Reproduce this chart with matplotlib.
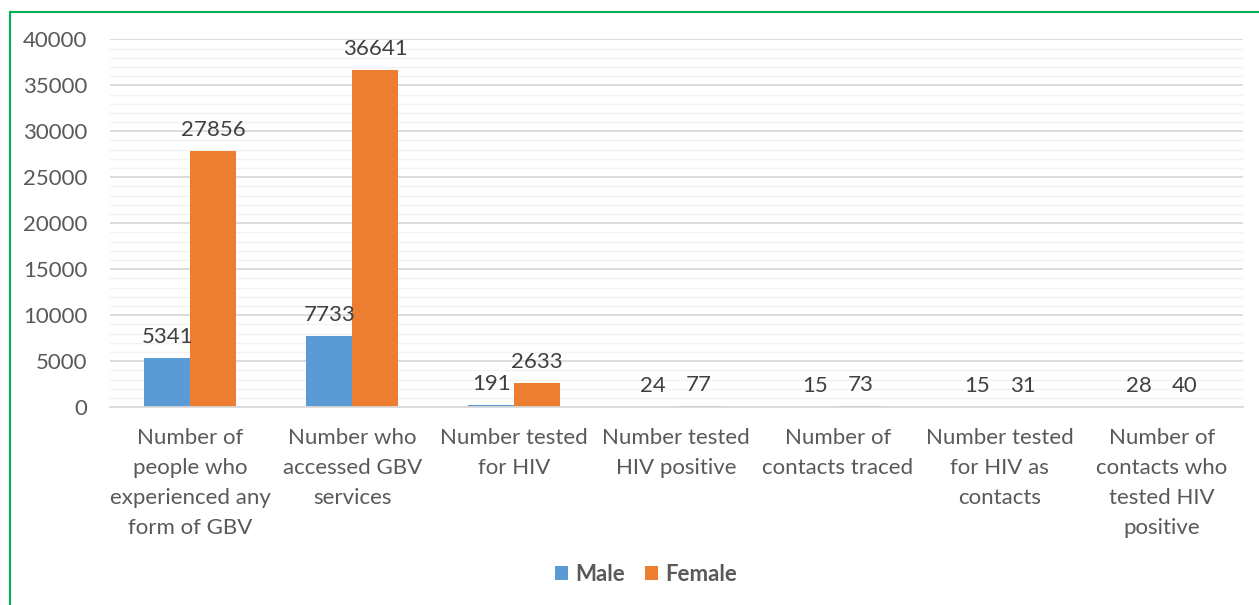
import numpy as np
import matplotlib.pyplot as plt
from matplotlib.lines import Line2D

# categories and values
categories = ["Number of\npeople who\nexperienced any\nform of GBV",
              "Number who\naccessed GBV\nservices",
              "Number tested\nfor HIV",
              "Number tested\nHIV positive",
              "Number of\ncontacts traced",
              "Number tested\nfor HIV as\ncontacts",
              "Number of\ncontacts who\ntested HIV\npositive"]
male = [5341, 7733, 191, 24, 15, 15, 28]
female = [27856, 36641, 2633, 77, 73, 31, 40]

blue = "#5B9BD5"
orange = "#ED7D31"
txt = "#595959"

plt.rcParams['font.family'] = ['Lato', 'DejaVu Sans']

fig = plt.figure(figsize=(12.59, 6.05), dpi=100)
ax = fig.add_axes([0.087, 0.327, 0.9, 0.608])

x = np.arange(len(categories))
w = 0.284
b1 = ax.bar(x - w / 2, male, w, color=blue, label="Male")
b2 = ax.bar(x + w / 2, female, w, color=orange, label="Female")

# data labels
for bars, vals in [(b1, male), (b2, female)]:
    for rect, v in zip(bars, vals):
        ax.annotate(str(v), (rect.get_x() + rect.get_width() / 2, v),
                    xytext=(0, 8), textcoords="offset points",
                    ha="center", va="bottom", fontsize=16, color="#404040")

ax.set_ylim(0, 40000)
ax.set_xlim(-0.5, len(categories) - 0.5)
ax.set_yticks(np.arange(0, 40001, 5000))
ax.set_yticks(np.arange(0, 40001, 1000), minor=True)
ax.grid(axis="y", which="major", color="#D9D9D9", linewidth=1.3)
ax.grid(axis="y", which="minor", color="#F2F2F2", linewidth=1.0)
ax.set_axisbelow(True)
for s in ["top", "right", "left"]:
    ax.spines[s].set_visible(False)
ax.spines["bottom"].set_color("#D9D9D9")
ax.spines["bottom"].set_linewidth(1.3)

ax.set_xticks(x)
ax.set_xticklabels(categories, fontsize=16, color=txt, linespacing=1.63)
ax.tick_params(axis="y", which="both", length=0, labelsize=16, labelcolor=txt, pad=16)
ax.tick_params(axis="x", length=0, pad=15)

leg = fig.legend(handles=[b1, b2], labels=["Male", "Female"], loc="center",
                 bbox_to_anchor=(0.513, 0.05), ncol=2, frameon=False,
                 handlelength=0.6, handleheight=0.6, handletextpad=0.3,
                 columnspacing=0.9, prop={"size": 16, "weight": "bold"})
for t in leg.get_texts():
    t.set_color(txt)

# green frame around chart
fig.add_artist(Line2D([9.5 / 1259, 9.5 / 1259], [0, 1 - 11.5 / 605],
                      color="#00B050", linewidth=1.5, transform=fig.transFigure))
fig.add_artist(Line2D([9.5 / 1259, 1], [1 - 11.5 / 605, 1 - 11.5 / 605],
                      color="#00B050", linewidth=1.5, transform=fig.transFigure))

fig.savefig("out.png", dpi=100)
